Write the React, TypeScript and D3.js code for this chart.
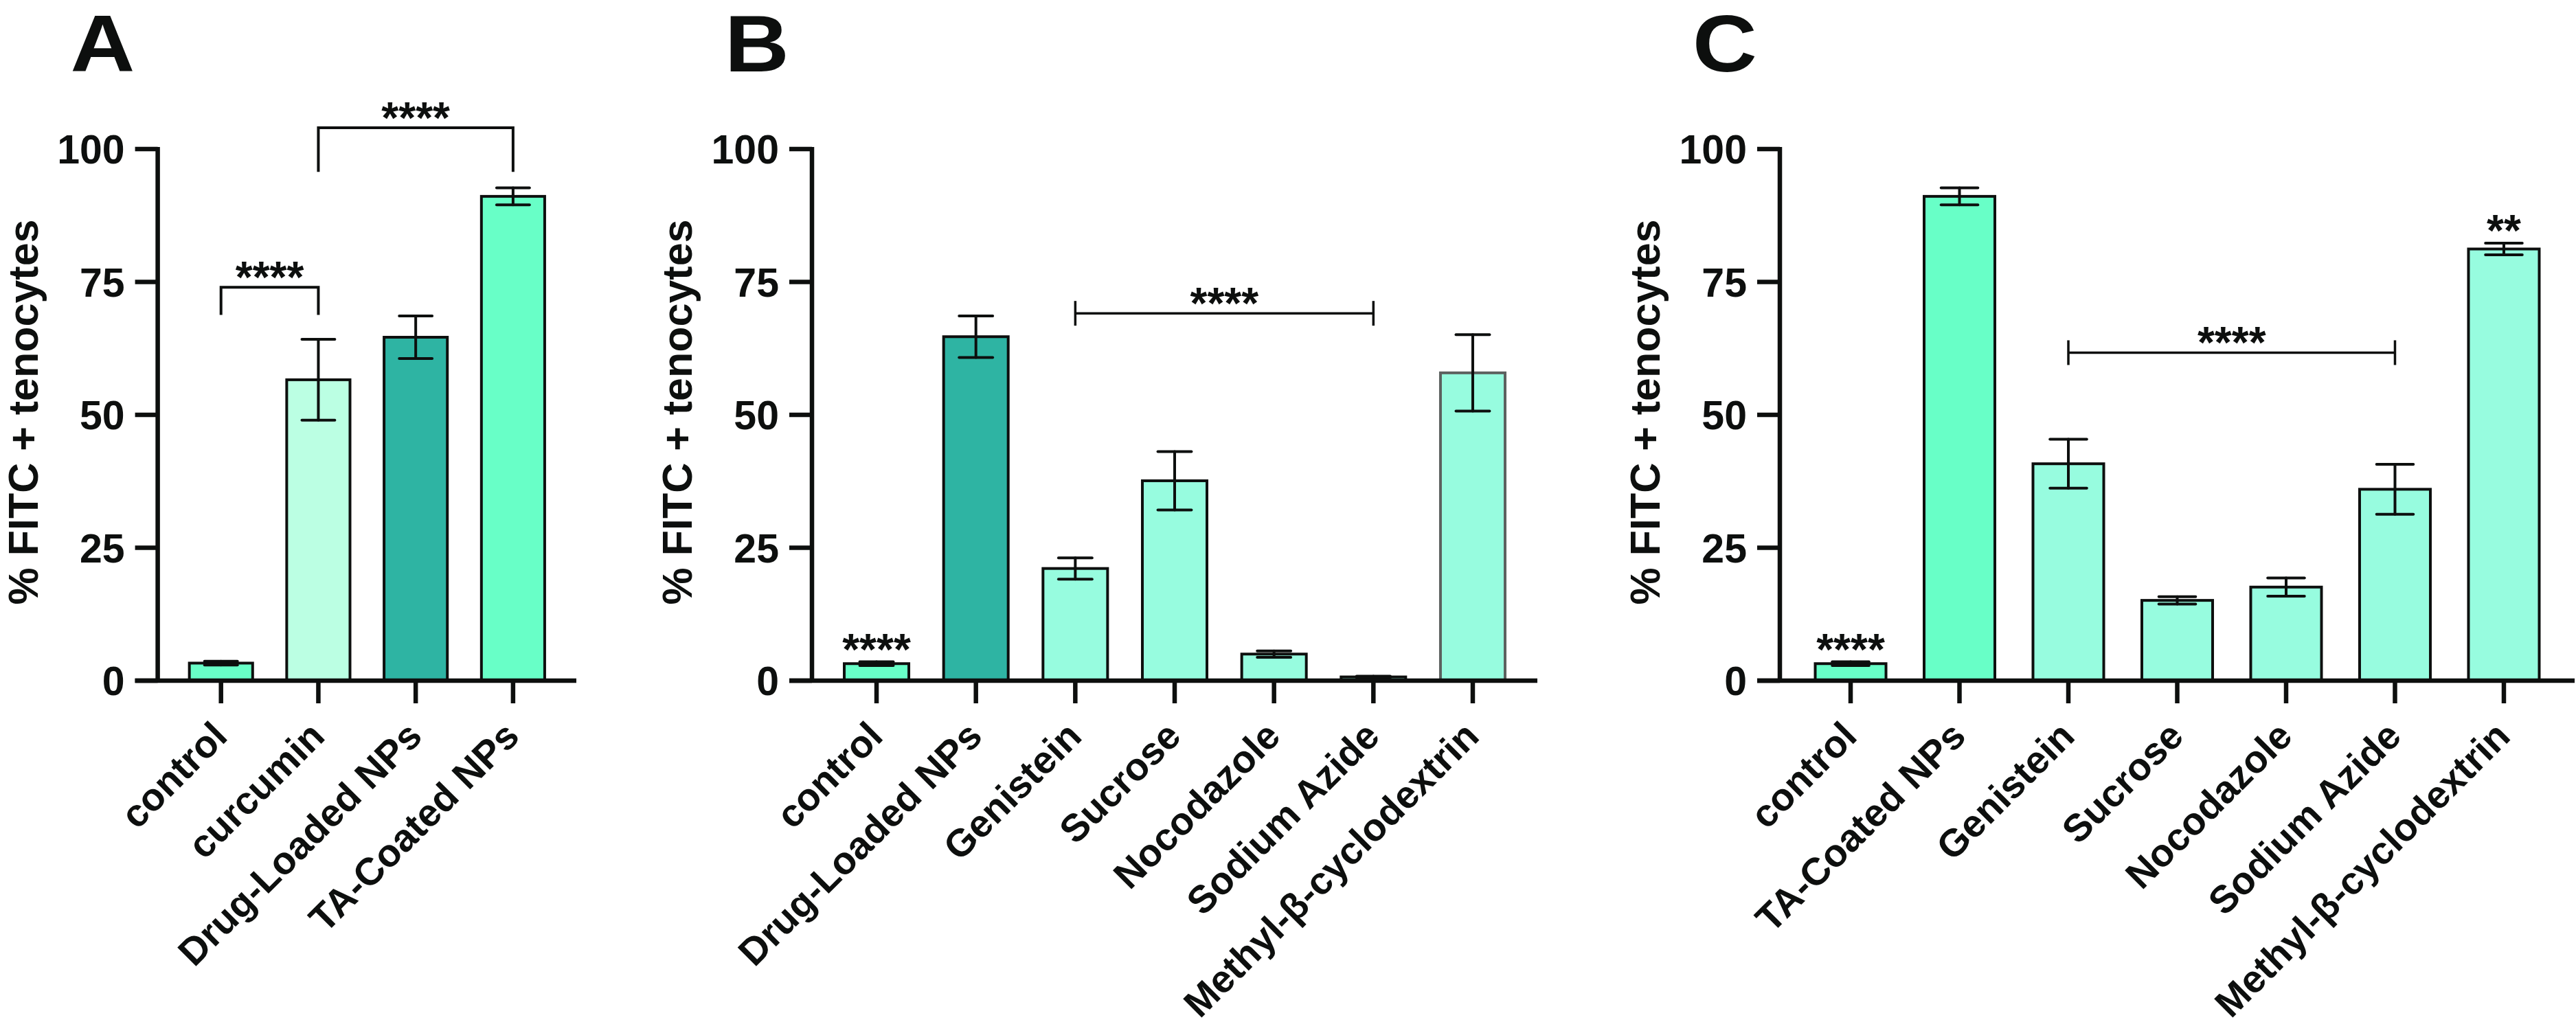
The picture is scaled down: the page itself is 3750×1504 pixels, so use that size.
import React from 'react';
import * as d3 from 'd3';

// shared y axis ticks
const yTicks = [0, 25, 50, 75, 100];

// panel A
const catsA = ['control', 'curcumin', 'Drug-Loaded NPs', 'TA-Coated NPs'];
const meanA = [3.3, 56.6, 64.6, 91.1];
const semA = [0.35, 7.6, 4.0, 1.6];

// panel B
const catsB = ['control', 'Drug-Loaded NPs', 'Genistein', 'Sucrose', 'Nocodazole', 'Sodium Azide', 'Methyl-β-cyclodextrin'];
const meanB = [3.2, 64.7, 21.1, 37.6, 5.0, 0.7, 57.9];
const semB = [0.35, 3.9, 2.0, 5.5, 0.6, 0.15, 7.2];

// panel C
const catsC = ['control', 'TA-Coated NPs', 'Genistein', 'Sucrose', 'Nocodazole', 'Sodium Azide', 'Methyl-β-cyclodextrin'];
const meanC = [3.2, 91.1, 40.8, 15.1, 17.6, 36.0, 81.2];
const semC = [0.35, 1.6, 4.6, 0.7, 1.7, 4.7, 1.1];

// significance annotations
const bracketsA = [
  {from: 'control', to: 'curcumin', at: 74, drop: 5.2, label: '****'},
  {from: 'curcumin', to: 'TA-Coated NPs', at: 104, drop: 8.3, label: '****'},
];
const whiskersB = [{from: 'Genistein', to: 'Sodium Azide', at: 69.1, label: '****'}];
const whiskersC = [{from: 'Genistein', to: 'Sodium Azide', at: 61.7, label: '****'}];
const marksB = [{cat: 'control', label: '****'}];
const marksC = [
  {cat: 'control', label: '****'},
  {cat: 'Methyl-β-cyclodextrin', label: '**'},
];

const MINT = '#68ffc7';
const PALE = '#bbffe3';
const TEAL = '#2eb4a3';
const AQUA = '#97fcdf';
const INK = '#0d0f0e';
const FONT = '"Liberation Sans", Arial, Helvetica, sans-serif';

const y = d3.scaleLinear().domain([0, 100]).range([991, 217]);

interface Bracket { from: string; to: string; at: number; drop: number; label: string }
interface Whisker { from: string; to: string; at: number; label: string }
interface Mark { cat: string; label: string }

interface PanelProps {
  letter: string;
  cats: string[];
  means: number[];
  sems: number[];
  fills: string[];
  strokes?: string[];
  x0: number;
  x1: number;
  brackets?: Bracket[];
  whiskers?: Whisker[];
  marks?: Mark[];
}

function Panel(p: PanelProps) {
  const x = d3.scaleBand<string>().domain(p.cats).range([p.x0, p.x1]).paddingInner(0.35).paddingOuter(0.325);
  const bw = x.bandwidth();
  const cx = (c: string) => (x(c) as number) + bw / 2;
  const y0 = y(0);
  const tick = 33;
  const cap = bw * 0.26;
  const starSize = 64;

  return (
    <g fontFamily={FONT} fill={INK}>
      <text transform={`translate(${p.x0 - 127},104) scale(1.12,1)`} fontSize={116} fontWeight="bold">
        {p.letter}
      </text>

      <text
        transform={`translate(${p.x0 - 175},600) rotate(-90)`}
        textAnchor="middle"
        fontSize={61}
        fontWeight="bold">
        % FITC + tenocytes
      </text>

      {p.cats.map((c, i) => (
        <rect
          key={c}
          x={x(c)}
          y={y(p.means[i])}
          width={bw}
          height={y0 - y(p.means[i])}
          fill={p.fills[i]}
          stroke={p.strokes ? p.strokes[i] : INK}
          strokeWidth={4}
        />
      ))}

      {p.cats.map((c, i) => {
        const hi = y(p.means[i] + p.sems[i]);
        const lo = y(p.means[i] - p.sems[i]);
        const xc = cx(c);
        return (
          <g key={c} stroke={INK} strokeWidth={4} strokeLinecap="round">
            <line x1={xc} x2={xc} y1={hi} y2={lo} />
            <line x1={xc - cap} x2={xc + cap} y1={hi} y2={hi} />
            <line x1={xc - cap} x2={xc + cap} y1={lo} y2={lo} />
          </g>
        );
      })}

      {/* axes */}
      <g stroke={INK} strokeWidth={6.5}>
        <line x1={p.x0} x2={p.x0} y1={y(100) - 3} y2={y0} />
        <line x1={p.x0 - tick} x2={p.x1} y1={y0} y2={y0} />
        {yTicks.map(t => (
          <line key={t} x1={p.x0 - tick} x2={p.x0} y1={y(t)} y2={y(t)} />
        ))}
        {p.cats.map(c => (
          <line key={c} x1={cx(c)} x2={cx(c)} y1={y0} y2={y0 + tick} />
        ))}
      </g>

      {yTicks.map(t => (
        <text key={t} x={p.x0 - 48} y={y(t) + 21} textAnchor="end" fontSize={59} fontWeight="bold">
          {t}
        </text>
      ))}

      {p.cats.map(c => (
        <text
          key={c}
          transform={`translate(${cx(c) + 12},${y0 + 84}) rotate(-45)`}
          textAnchor="end"
          fontSize={56}
          fontWeight="bold">
          {c}
        </text>
      ))}

      {(p.brackets || []).map((b, i) => {
        const xa = cx(b.from);
        const xb = cx(b.to);
        const yl = y(b.at);
        const yd = y(b.at - b.drop);
        return (
          <g key={i}>
            <path d={`M${xa},${yd}V${yl}H${xb}V${yd}`} fill="none" stroke={INK} strokeWidth={4} />
            <text x={(xa + xb) / 2} y={yl + 8} textAnchor="middle" fontSize={starSize} fontWeight="bold">
              {b.label}
            </text>
          </g>
        );
      })}

      {(p.whiskers || []).map((w, i) => {
        const xa = cx(w.from);
        const xb = cx(w.to);
        const yl = y(w.at);
        return (
          <g key={i}>
            <g stroke={INK} strokeWidth={3.5}>
              <line x1={xa} x2={xb} y1={yl} y2={yl} />
              <line x1={xa} x2={xa} y1={yl - 18} y2={yl + 18} />
              <line x1={xb} x2={xb} y1={yl - 18} y2={yl + 18} />
            </g>
            <text x={(xa + xb) / 2} y={yl + 8} textAnchor="middle" fontSize={starSize} fontWeight="bold">
              {w.label}
            </text>
          </g>
        );
      })}

      {(p.marks || []).map((m, i) => {
        const k = p.cats.indexOf(m.cat);
        return (
          <text
            key={i}
            x={cx(m.cat)}
            y={y(p.means[k] + p.sems[k]) + 4}
            textAnchor="middle"
            fontSize={starSize}
            fontWeight="bold">
            {m.label}
          </text>
        );
      })}
    </g>
  );
}

export default function App() {
  const fillsA = [MINT, PALE, TEAL, MINT];
  const fillsB = [MINT, TEAL, AQUA, AQUA, AQUA, AQUA, AQUA];
  const fillsC = [MINT, MINT, AQUA, AQUA, AQUA, AQUA, AQUA];
  const strokesB = [INK, INK, INK, INK, INK, INK, '#5c615f'];
  return (
    <svg
      width={3750}
      height={1504}
      viewBox="0 0 3750 1504"
      style={{position: 'absolute', left: 0, top: 0, background: '#fff'}}>
      <rect width={3750} height={1504} fill="#fff" />
      <Panel letter="A" cats={catsA} means={meanA} sems={semA} fills={fillsA} x0={229.6} x1={839} brackets={bracketsA} />
      <Panel
        letter="B"
        cats={catsB}
        means={meanB}
        sems={semB}
        fills={fillsB}
        strokes={strokesB}
        x0={1182}
        x1={2238}
        whiskers={whiskersB}
        marks={marksB}
      />
      <Panel
        letter="C"
        cats={catsC}
        means={meanC}
        sems={semC}
        fills={fillsC}
        x0={2591}
        x1={3748}
        whiskers={whiskersC}
        marks={marksC}
      />
    </svg>
  );
}
